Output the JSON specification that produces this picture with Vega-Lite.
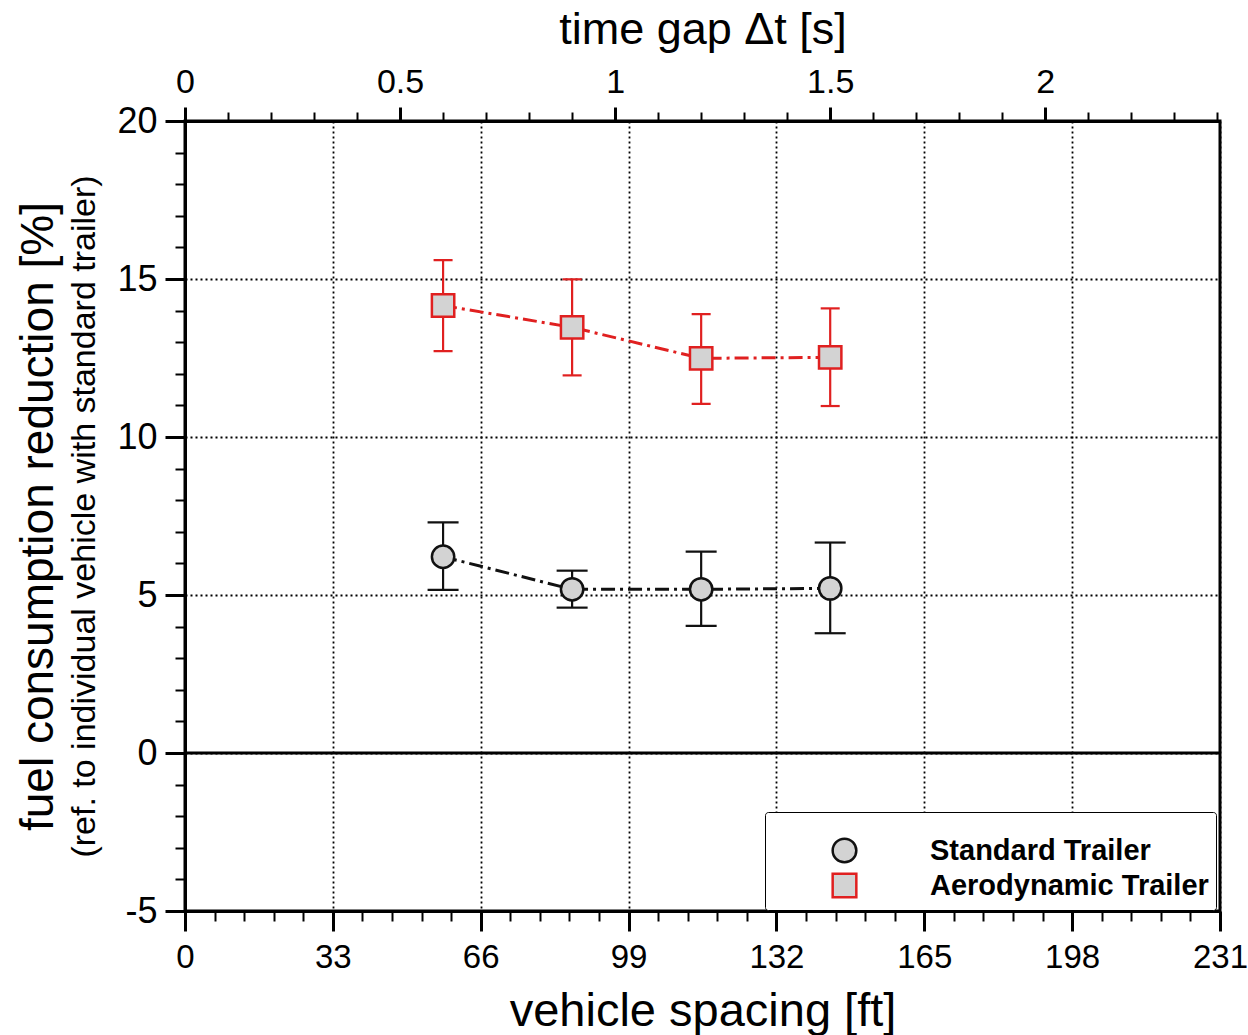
{
  "$schema": "https://vega.github.io/schema/vega-lite/v6.json",
  "width": 1035,
  "height": 790,
  "autosize": {"type": "none"},
  "padding": {"left": 185, "top": 121, "right": 28, "bottom": 124},
  "background": "white",
  "config": {
    "view": {"stroke": "black", "strokeWidth": 3},
    "font": "Liberation Sans",
    "axis": {
      "labelFont": "Liberation Sans",
      "titleFont": "Liberation Sans",
      "labelColor": "black",
      "titleColor": "black",
      "tickColor": "black",
      "domainColor": "black",
      "titleFontWeight": "normal",
      "gridColor": "black",
      "gridDash": [2, 3],
      "gridWidth": 1.8,
      "gridOpacity": 1
    }
  },
  "data": {
    "values": [
      {"series": "Standard Trailer", "ft": 57.6, "val": 6.21, "lo": 5.16, "hi": 7.30},
      {"series": "Standard Trailer", "ft": 86.4, "val": 5.18, "lo": 4.60, "hi": 5.77},
      {"series": "Standard Trailer", "ft": 115.2, "val": 5.18, "lo": 4.02, "hi": 6.37},
      {"series": "Standard Trailer", "ft": 144.0, "val": 5.21, "lo": 3.79, "hi": 6.66},
      {"series": "Aerodynamic Trailer", "ft": 57.6, "val": 14.16, "lo": 12.72, "hi": 15.60},
      {"series": "Aerodynamic Trailer", "ft": 86.4, "val": 13.47, "lo": 11.95, "hi": 14.99},
      {"series": "Aerodynamic Trailer", "ft": 115.2, "val": 12.49, "lo": 11.05, "hi": 13.89},
      {"series": "Aerodynamic Trailer", "ft": 144.0, "val": 12.52, "lo": 10.98, "hi": 14.07}
    ]
  },
  "layer": [
    {
      "mark": {"type": "line", "strokeWidth": 3, "strokeDash": [14, 5, 3, 5]},
      "encoding": {
        "x": {
          "field": "ft", "type": "quantitative",
          "scale": {"domain": [0, 231], "nice": false, "zero": false},
          "axis": {
            "orient": "bottom",
            "values": [0, 33, 66, 99, 132, 165, 198, 231],
            "title": "vehicle spacing [ft]",
            "titleFontSize": 47,
            "titleBaseline": "alphabetic",
            "titleY": 114,
            "labelFontSize": 33,
            "labelPadding": 10,
            "labelFlush": false,
            "labelOverlap": false,
            "tickSize": 20,
            "tickWidth": 3,
            "domainWidth": 3,
            "grid": true
          }
        },
        "y": {
          "field": "val", "type": "quantitative",
          "scale": {"domain": [-5, 20], "nice": false, "zero": false},
          "axis": {
            "orient": "left",
            "values": [-5, 0, 5, 10, 15, 20],
            "labelExpr": "'' + datum.value",
            "title": "(ref. to individual vehicle with standard trailer)",
            "titleFontSize": 34,
            "titleBaseline": "alphabetic",
            "titleX": -91,
            "labelFontSize": 36,
            "labelPadding": 8,
            "labelOverlap": false,
            "tickSize": 20,
            "tickWidth": 3,
            "domainWidth": 3,
            "grid": true
          }
        },
        "color": {
          "field": "series", "type": "nominal",
          "scale": {"range": ["#e02020", "#111111"]},
          "legend": null
        }
      }
    },
    {
      "mark": {"type": "rule", "strokeWidth": 2.2},
      "encoding": {
        "x": {
          "field": "ft", "type": "quantitative",
          "scale": {"domain": [0, 231], "nice": false, "zero": false},
          "axis": {
            "orient": "bottom",
            "values": [6.6, 13.2, 19.8, 26.4, 39.6, 46.2, 52.8, 59.4, 72.6, 79.2, 85.8, 92.4, 105.6, 112.2, 118.8, 125.4, 138.6, 145.2, 151.8, 158.4, 171.6, 178.2, 184.8, 191.4, 204.6, 211.2, 217.8, 224.4],
            "labels": false,
            "title": null,
            "tickSize": 10,
            "tickWidth": 2,
            "domain": false,
            "grid": false
          }
        },
        "y": {
          "field": "lo", "type": "quantitative",
          "scale": {"domain": [-5, 20], "nice": false, "zero": false},
          "axis": {
            "orient": "left",
            "values": [-4, -3, -2, -1, 1, 2, 3, 4, 6, 7, 8, 9, 11, 12, 13, 14, 16, 17, 18, 19],
            "labels": false,
            "tickSize": 10,
            "tickWidth": 2,
            "domain": false,
            "grid": false,
            "title": "fuel consumption reduction [%]",
            "titleFontSize": 46,
            "titleBaseline": "alphabetic",
            "titleX": -133
          }
        },
        "y2": {"field": "hi"},
        "color": {
          "field": "series", "type": "nominal",
          "scale": {"range": ["#e02020", "#111111"]},
          "legend": null
        }
      }
    },
    {
      "mark": {"type": "tick", "orient": "horizontal", "thickness": 2.2, "opacity": 1},
      "encoding": {
        "x": {
          "field": "ft", "type": "quantitative",
          "scale": {"domain": [0, 231], "nice": false, "zero": false},
          "axis": {
            "orient": "top",
            "values": [0, 48, 96, 144, 192],
            "labelExpr": "'' + (datum.value / 96)",
            "title": "time gap Δt [s]",
            "titleFontSize": 45,
            "titleBaseline": "alphabetic",
            "titleY": -78,
            "labelFontSize": 34,
            "labelPadding": 8,
            "labelFlush": false,
            "labelOverlap": false,
            "tickSize": 14,
            "tickWidth": 3,
            "domainWidth": 3,
            "grid": false
          }
        },
        "y": {
          "field": "lo", "type": "quantitative",
          "scale": {"domain": [-5, 20], "nice": false, "zero": false},
          "axis": null
        },
        "color": {
          "field": "series", "type": "nominal",
          "scale": {"range": ["#e02020", "#111111"]},
          "legend": null
        },
        "size": {
          "field": "series", "type": "nominal",
          "scale": {"range": [19, 31]},
          "legend": null
        }
      }
    },
    {
      "mark": {"type": "tick", "orient": "horizontal", "thickness": 2.2, "opacity": 1},
      "encoding": {
        "x": {
          "field": "ft", "type": "quantitative",
          "scale": {"domain": [0, 231], "nice": false, "zero": false},
          "axis": {
            "orient": "top",
            "values": [9.6, 19.2, 28.8, 38.4, 57.6, 67.2, 76.8, 86.4, 105.6, 115.2, 124.8, 134.4, 153.6, 163.2, 172.8, 182.4, 201.6, 211.2, 220.8, 230.4],
            "labels": false,
            "title": null,
            "tickSize": 9,
            "tickWidth": 2,
            "domain": false,
            "grid": false
          }
        },
        "y": {
          "field": "hi", "type": "quantitative",
          "scale": {"domain": [-5, 20], "nice": false, "zero": false},
          "axis": null
        },
        "color": {
          "field": "series", "type": "nominal",
          "scale": {"range": ["#e02020", "#111111"]},
          "legend": null
        },
        "size": {
          "field": "series", "type": "nominal",
          "scale": {"range": [19, 31]},
          "legend": null
        }
      }
    },
    {
      "data": {"values": [{"ref": 0}]},
      "mark": {"type": "rule", "strokeWidth": 3, "color": "black"},
      "encoding": {
        "y": {
          "field": "ref", "type": "quantitative",
          "scale": {"domain": [-5, 20], "nice": false, "zero": false},
          "axis": null
        }
      }
    },
    {
      "mark": {"type": "point", "filled": true, "fill": "#d3d3d3", "strokeWidth": 2.5, "size": 500, "opacity": 1, "fillOpacity": 1, "strokeOpacity": 1},
      "encoding": {
        "x": {
          "field": "ft", "type": "quantitative",
          "scale": {"domain": [0, 231], "nice": false, "zero": false},
          "axis": null
        },
        "y": {
          "field": "val", "type": "quantitative",
          "scale": {"domain": [-5, 20], "nice": false, "zero": false},
          "axis": null
        },
        "stroke": {
          "field": "series", "type": "nominal",
          "scale": {"domain": ["Standard Trailer", "Aerodynamic Trailer"], "range": ["#111111", "#e02020"]},
          "legend": {
            "title": " ",
            "orient": "none",
            "legendX": 580,
            "legendY": 691,
            "padding": 7,
            "fillColor": "white",
            "strokeColor": "black",
            "cornerRadius": 3,
            "labelFont": "Liberation Sans",
            "labelFontSize": 29,
            "labelFontWeight": "bold",
            "labelColor": "black",
            "labelLimit": 400,
            "labelOffset": 71,
            "symbolOffset": 58,
            "symbolSize": 560,
            "symbolStrokeWidth": 2.5,
            "symbolFillColor": "#d3d3d3",
            "rowPadding": 0,
            "titleFontSize": 10,
            "titlePadding": 7,
            "encoding": {"legend": {"update": {"strokeWidth": {"value": 2.5}}}}
          }
        },
        "shape": {
          "field": "series", "type": "nominal",
          "scale": {"domain": ["Standard Trailer", "Aerodynamic Trailer"], "range": ["circle", "square"]},
          "legend": {
            "title": " ",
            "orient": "none",
            "legendX": 580,
            "legendY": 691,
            "padding": 7,
            "fillColor": "white",
            "strokeColor": "black",
            "cornerRadius": 3,
            "labelFont": "Liberation Sans",
            "labelFontSize": 29,
            "labelFontWeight": "bold",
            "labelColor": "black",
            "labelLimit": 400,
            "labelOffset": 71,
            "symbolOffset": 58,
            "symbolSize": 560,
            "symbolStrokeWidth": 2.5,
            "symbolFillColor": "#d3d3d3",
            "rowPadding": 0,
            "titleFontSize": 10,
            "titlePadding": 7,
            "encoding": {"legend": {"update": {"strokeWidth": {"value": 2.5}}}}
          }
        }
      }
    }
  ],
  "resolve": {"axis": {"x": "independent", "y": "independent"}}
}
